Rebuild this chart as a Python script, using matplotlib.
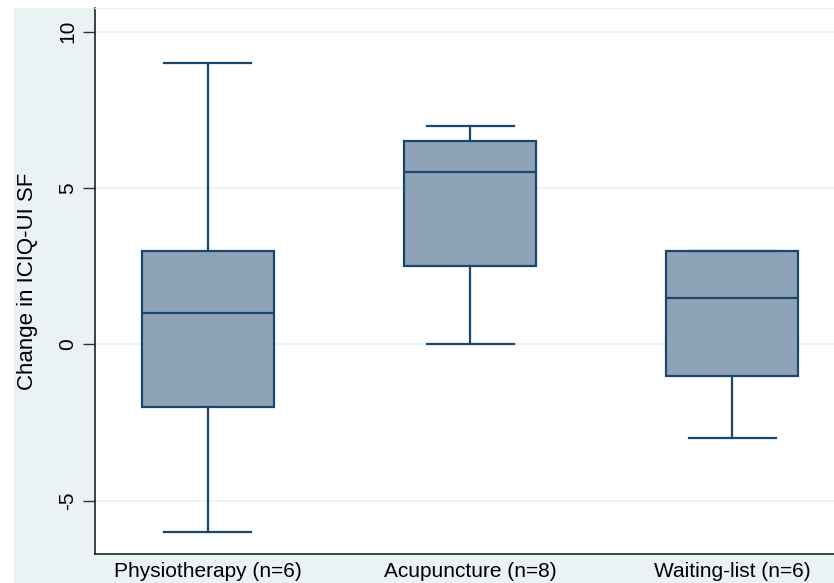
import matplotlib
matplotlib.use("Agg")
import matplotlib.pyplot as plt
from matplotlib.patches import Rectangle

categories = ["Physiotherapy (n=6)", "Acupuncture (n=8)", "Waiting-list (n=6)"]
whisker_low = [-6, 0, -3]
q1 = [-2, 2.5, -1]
median = [1, 5.5, 1.5]
q3 = [3, 6.5, 3]
whisker_high = [9, 7, 3]
yticks = [-5, 0, 5, 10]

plt.rcParams['font.family'] = ['Liberation Sans', 'DejaVu Sans']

W, H = 834, 583
fig = plt.figure(figsize=(W / 100, H / 100), dpi=100, facecolor='white')
fig.patches.append(Rectangle((14 / W, 0), 1 - 14 / W, 1 - 8 / H,
                             transform=fig.transFigure, facecolor='#eaf2f3',
                             edgecolor='none', zorder=-10))
ax = fig.add_axes([95 / W, 1 - 554 / H, 1 - 95 / W, (554 - 8) / H])
ax.set_facecolor('white')

stats = []
for i, c in enumerate(categories):
    stats.append(dict(label=c, whislo=whisker_low[i], q1=q1[i], med=median[i],
                      q3=q3[i], whishi=whisker_high[i], fliers=[]))

edge = '#1a476f'
ax.bxp(stats, positions=[1, 2, 3], widths=0.504, showfliers=False,
       patch_artist=True,
       boxprops=dict(facecolor='#8ea3b8', edgecolor=edge, linewidth=1.6),
       medianprops=dict(color=edge, linewidth=1.6),
       whiskerprops=dict(color=edge, linewidth=1.6),
       capprops=dict(color=edge, linewidth=1.6),
       capwidths=0.332)

ax.set_xlim(0.569, 3.389)
ax.set_ylim(-6.70, 10.76)
ax.set_yticks(yticks)
ax.set_yticklabels([str(t) for t in yticks], rotation=90, va='center', fontsize=15)
ax.tick_params(axis='y', length=9, width=1, color='#333333', pad=4)
ax.tick_params(axis='x', length=0, labelsize=15, pad=6)
ax.yaxis.grid(True, color='#eaf1f2', linewidth=1.2)
ax.set_axisbelow(True)
ax.spines['right'].set_visible(False)
ax.spines['top'].set_color('#eeeeee')
ax.spines['top'].set_linewidth(1.0)
for s in ['left', 'bottom']:
    ax.spines[s].set_color('#222222')
    ax.spines[s].set_linewidth(1.2)
ax.set_ylabel('Change in ICIQ-UI SF', fontsize=16)
ax.yaxis.set_label_coords(-57 / 739, 0.5)

fig.savefig('out.png', dpi=100, facecolor=fig.get_facecolor())
